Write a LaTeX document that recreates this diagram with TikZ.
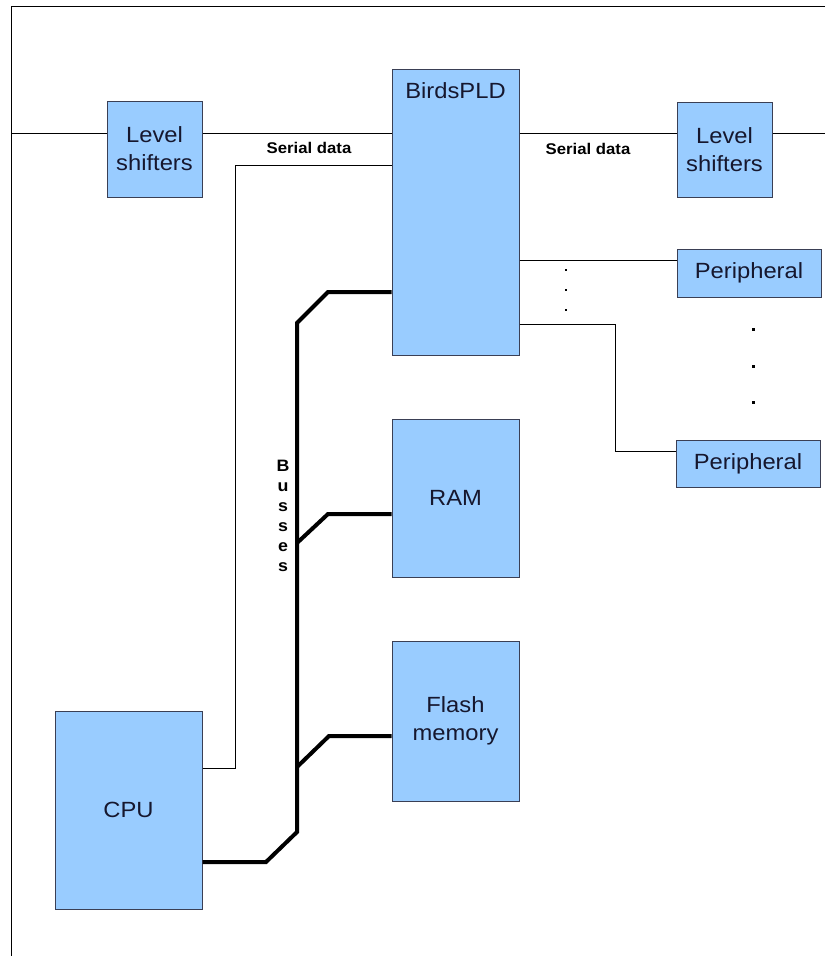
\documentclass[tikz,border=0pt]{standalone}
\usepackage{fontspec}
\setmainfont{Liberation Sans}[FakeStretch=1.08]
\definecolor{boxfill}{HTML}{99CCFF}
\definecolor{boxline}{HTML}{3A3F55}
\definecolor{txt}{HTML}{16172E}
\tikzset{
  blk/.style={draw=boxline, fill=boxfill, line width=1pt, inner sep=0pt, align=center,
    font=\fontsize{22}{28}\selectfont, text=txt},
  blktext/.style={inner sep=0pt, font=\fontsize{22}{28}\selectfont, text=txt},
  wire/.style={line width=1pt, black},
  bus/.style={line width=4pt, black},
  lbl/.style={inner sep=0pt, font=\bfseries\fontsize{15.5}{19}\selectfont},
  buslbl/.style={inner sep=0pt, align=center, font=\bfseries\fontsize{16.5}{20}\selectfont},
  dotmark/.style={fill=black}
}
\begin{document}
\begin{tikzpicture}[x=1pt,y=-1pt]
\useasboundingbox (0,0) rectangle (825,956);
% frame
\coordinate (ftr) at (825,6);
\coordinate (ftl) at (11,6);
\coordinate (fbl) at (11,956);
\draw[wire] (ftr) -- (ftl) -- (fbl);

% blocks
\node[blk, minimum width=95pt, minimum height=96pt] (lsL) at (154.5,149) {Level\\shifters};
\node[blk, minimum width=127pt, minimum height=286pt] (pld) at (455.5,212) {};
\node[blktext] (pldt) at (455.5,91) {BirdsPLD};
\node[blk, minimum width=95pt, minimum height=95pt] (lsR) at (724.5,149.5) {Level\\shifters};
\node[blk, minimum width=144pt, minimum height=48pt] (per1) at (749,273) {Peripheral};
\node[blk, minimum width=144pt, minimum height=47pt] (per2) at (748,463.5) {Peripheral};
\node[blk, minimum width=127pt, minimum height=158pt] (ram) at (455.5,498) {RAM};
\node[blk, minimum width=127pt, minimum height=160pt] (flash) at (455.5,721) {Flash\\memory};
\node[blk, minimum width=147pt, minimum height=198pt] (cpu) at (128.5,810) {CPU};

% serial lines
\coordinate (inL) at (11,133);
\coordinate (outR) at (825,133);
\draw[wire] (inL) -- (lsL.west |- inL);
\draw[wire] (lsL.east |- inL) -- (pld.west |- inL);
\draw[wire] (pld.east |- inL) -- (lsR.west |- inL);
\draw[wire] (lsR.east |- inL) -- (outR);
\node[lbl] (sd1) at (309,148) {Serial data};
\node[lbl] (sd2) at (588,149) {Serial data};

% CPU serial
\coordinate (c1) at (235,768);
\coordinate (c2) at (235,165);
\draw[wire] (cpu.east |- c1) -- (c1) -- (c2) -- (pld.west |- c2);

% peripherals
\coordinate (p1) at (519,260);
\draw[wire] (pld.east |- p1) -- (per1.west |- p1);
\coordinate (p2a) at (615,324);
\coordinate (p2b) at (615,451);
\draw[wire] (pld.east |- p2a) -- (p2a) -- (p2b) -- (per2.west |- p2b);

% dots
\foreach \yy in {270,290,310} \fill[dotmark] (565,\yy-1) rectangle (567.2,\yy+1.2);
\foreach \yy in {329,366,402} \fill[dotmark] (751.5,\yy-1.5) rectangle (754.5,\yy+1.5);

% busses
\coordinate (b0) at (266,862);
\coordinate (b1) at (297,832);
\coordinate (b2) at (297,323);
\coordinate (b3) at (328,292);
\draw[bus] (cpu.east |- b0) -- (b0) -- (b1) -- (b2) -- (b3) -- (pld.west |- b3);
\coordinate (r0) at (297,543);
\coordinate (r1) at (328,514);
\draw[bus] (r0) -- (r1) -- (ram.west |- r1);
\coordinate (f0) at (297,767);
\coordinate (f1) at (329,736);
\draw[bus] (f0) -- (f1) -- (flash.west |- f1);
\node[buslbl] (blab) at (283,516) {B\\u\\s\\s\\e\\s};
\end{tikzpicture}
\end{document}
